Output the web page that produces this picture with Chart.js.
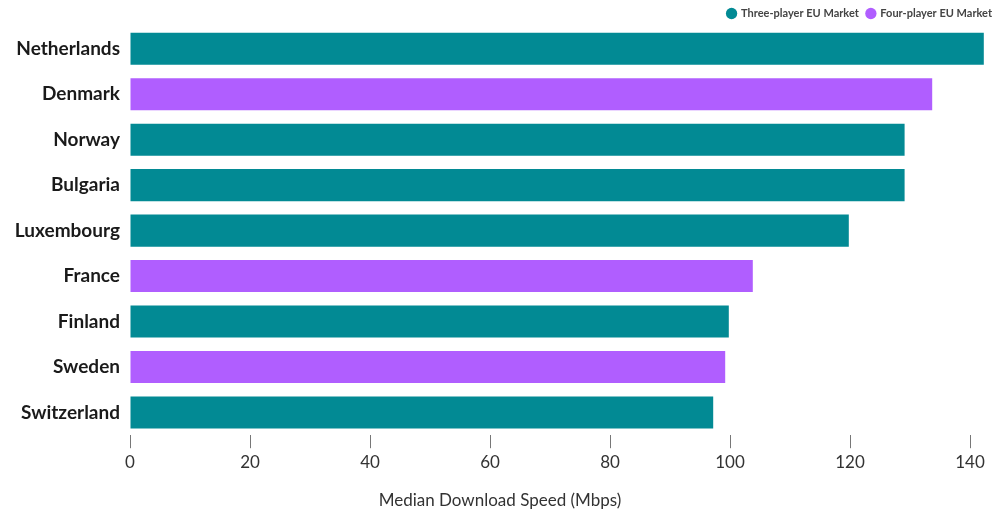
<!DOCTYPE html>
<html>
<head>
<meta charset="utf-8">
<script src="https://cdn.jsdelivr.net/npm/chart.js@4/dist/chart.umd.min.js"></script>
<style>
	html, body { margin: 0; padding: 0; background: #fff; }
	#wrap { width: 1000px; height: 511px; position: relative; }
</style>
</head>
<body>
<div id="wrap"><canvas id="speedChart"></canvas></div>
<script>
const countries = ['Netherlands', 'Denmark', 'Norway', 'Bulgaria', 'Luxembourg', 'France', 'Finland', 'Sweden', 'Switzerland']
const speeds = [142.3, 133.7, 129.1, 129.1, 119.8, 103.8, 99.8, 99.2, 97.2]
const players = [3, 4, 3, 3, 3, 4, 3, 4, 3]
const xTicks = [0, 20, 40, 60, 80, 100, 120, 140]

const markets = [
	{ players: 3, label: 'Three-player EU Market', color: '#028a94' },
	{ players: 4, label: 'Four-player EU Market', color: '#b05eff' }
]

const font = 'Lato, "Noto Sans", sans-serif'

const datasets = markets.map(m => ({
	label: m.label,
	data: speeds.map((v, i) => players[i] === m.players ? v : null),
	backgroundColor: m.color,
	borderWidth: 0,
	grouped: false,
	categoryPercentage: 1,
	barPercentage: 0.705
}))

// legend sits tight above the bars
const legendTrim = {
	id: 'legendTrim',
	beforeInit(chart) {
		const fit = chart.legend.fit
		chart.legend.fit = function () {
			fit.call(this)
			this.height -= 3
		}
	}
}

new Chart(document.getElementById('speedChart'), {
	type: 'bar',
	data: { labels: countries, datasets },
	plugins: [legendTrim],
	options: {
		indexAxis: 'y',
		responsive: true,
		maintainAspectRatio: false,
		animation: false,
		layout: { padding: 0 },
		scales: {
			x: {
				min: 0,
				max: 145,
				afterBuildTicks: scale => {
					scale.ticks = xTicks.map(value => ({ value }))
				},
				ticks: {
					color: '#333',
					padding: 4,
					font: { family: font, size: 17 }
				},
				grid: {
					drawOnChartArea: false,
					drawTicks: true,
					tickLength: 13,
					tickColor: '#777'
				},
				border: { display: false }
			},
			y: {
				afterFit: scale => { scale.width = 130 },
				ticks: {
					color: '#1a1a1a',
					padding: 10,
					font: { family: font, size: 19, weight: 'bold' }
				},
				grid: { display: false, drawTicks: false },
				border: { display: false }
			}
		},
		plugins: {
			legend: {
				position: 'top',
				align: 'end',
				labels: {
					usePointStyle: true,
					pointStyle: 'circle',
					boxWidth: 8,
					boxHeight: 8,
					padding: 8,
					color: '#444',
					font: { family: font, size: 11, weight: 'bold' }
				}
			},
			title: {
				display: true,
				position: 'bottom',
				text: 'Median Download Speed (Mbps)',
				color: '#333',
				font: { family: font, size: 17, weight: 'normal' },
				padding: { top: 14, bottom: 0 }
			},
			tooltip: { enabled: false }
		}
	}
})
</script>
</body>
</html>
